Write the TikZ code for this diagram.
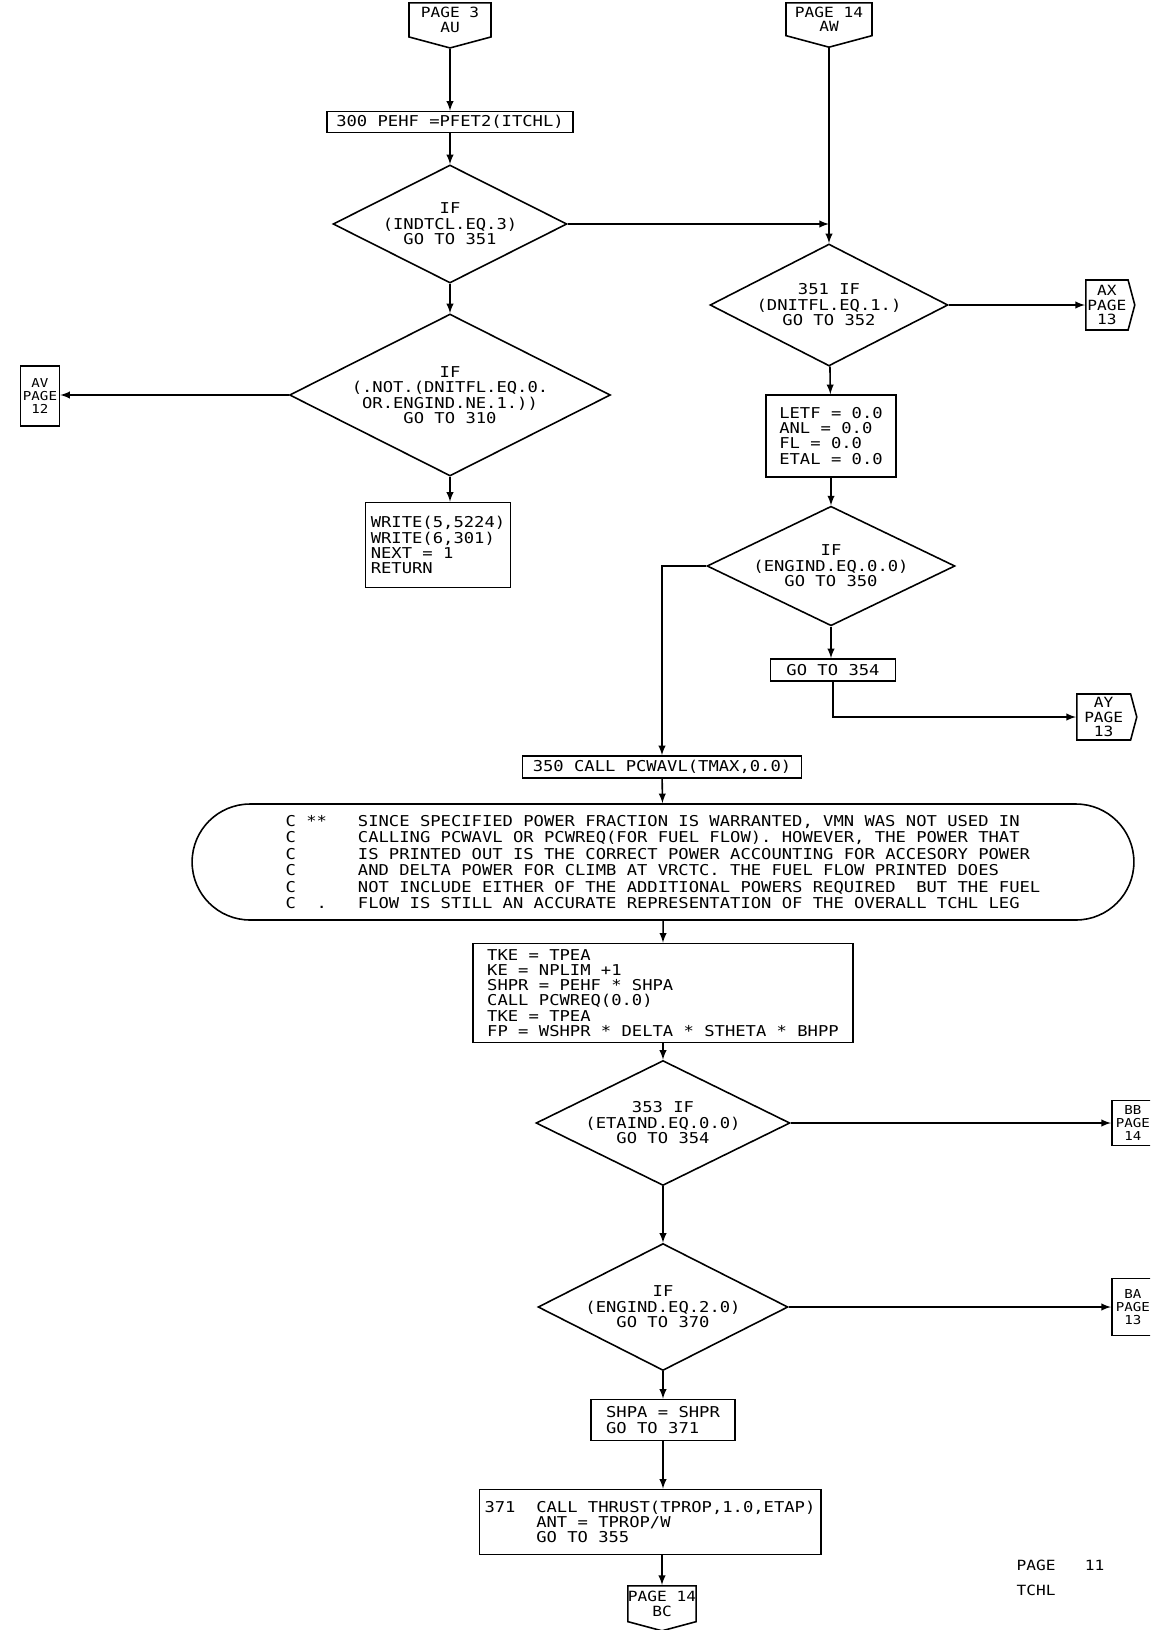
\documentclass[tikz,border=0pt]{standalone}
\usepackage{fontspec}
\newfontfamily\plotfont[FakeStretch=1.15]{DejaVu Sans Mono}
\usetikzlibrary{shapes.geometric,shapes.misc,shapes.symbols}
\tikzset{
  process/.style={draw, rectangle, font=\plotfont\fontsize{8.5}{8.6}\selectfont, align=left, inner xsep=3pt, inner ysep=0pt},
  decision/.style={draw, diamond, aspect=2, font=\plotfont\fontsize{8.5}{8.8}\selectfont, align=center, inner sep=0pt},
  terminal/.style={draw, rounded rectangle, font=\plotfont\fontsize{8.5}{9.4}\selectfont, align=left, inner sep=0pt},
  offpage/.style={draw, signal, signal pointer angle=150, font=\plotfont\fontsize{8}{8.2}\selectfont, align=center, inner sep=0pt},
  pageref/.style={draw, rectangle, font=\plotfont\fontsize{7}{7.6}\selectfont, align=center, inner sep=0pt},
  flow/.style={->, >=latex}
}

\begin{document}
\begin{tikzpicture}[x=0.02cm, y=-0.02cm, line width=0.9pt]
  \clip (0,0) rectangle (1150,1630);

  % left column
  \node[offpage, signal to=south, minimum width=1.64cm, minimum height=0.84cm, anchor=north] (au) at (450,2) {PAGE 3\\AU};
  \node[process, minimum width=4.92cm, minimum height=0.42cm] (p300) at (450,122) {300 PEHF =PFET2(ITCHL)};
  \node[decision, minimum width=4.68cm, minimum height=2.36cm] (d1) at (450,224) {IF\\(INDTCL.EQ.3)\\GO TO 351};
  \node[decision, minimum width=6.42cm, minimum height=3.24cm] (d2) at (450,395) {IF\\(.NOT.(DNITFL.EQ.0.\\OR.ENGIND.NE.1.))\\GO TO 310};
  \node[pageref, minimum width=0.78cm, minimum height=1.2cm] (av) at (40,396) {AV\\PAGE\\12};
  \node[process, minimum width=2.66cm, minimum height=1.7cm] (write) at (438,545) {WRITE(5,5224)\\WRITE(6,301)\\NEXT = 1\\RETURN};

  % right column
  \node[offpage, signal to=south, minimum width=1.72cm, minimum height=0.84cm, anchor=north] (aw) at (829,2) {PAGE 14\\AW};
  \coordinate (j1) at (829,224);
  \node[decision, minimum width=4.76cm, minimum height=2.44cm] (d351) at (829,305) {351 IF\\(DNITFL.EQ.1.)\\GO TO 352};
  \node[offpage, signal to=east, minimum width=0.98cm, minimum height=1.0cm, anchor=west] (ax) at (1085,305) {AX\\PAGE\\13};
  \node[process, minimum width=2.6cm, minimum height=1.64cm] (letf) at (831,436) {LETF = 0.0\\ANL = 0.0\\FL = 0.0\\ETAL = 0.0};
  \node[decision, minimum width=4.96cm, minimum height=2.32cm] (deng0) at (831,566) {IF\\(ENGIND.EQ.0.0)\\GO TO 350};
  \node[process, minimum width=2.5cm, minimum height=0.44cm] (go354) at (833,670) {GO TO 354};
  \node[offpage, signal to=east, minimum width=1.2cm, minimum height=0.92cm, anchor=west] (ay) at (1076,717) {AY\\PAGE\\13};

  % lower column
  \node[process, minimum width=5.58cm, minimum height=0.44cm] (p350) at (662,767) {350 CALL PCWAVL(TMAX,0.0)};
  \node[terminal, minimum width=18.84cm, minimum height=2.32cm] (note) at (663,862)
    {C~**~~~SINCE SPECIFIED POWER FRACTION IS WARRANTED, VMN WAS NOT USED IN\\
     C~~~~~~CALLING PCWAVL OR PCWREQ(FOR FUEL FLOW). HOWEVER, THE POWER THAT\\
     C~~~~~~IS PRINTED OUT IS THE CORRECT POWER ACCOUNTING FOR ACCESORY POWER\\
     C~~~~~~AND DELTA POWER FOR CLIMB AT VRCTC. THE FUEL FLOW PRINTED DOES\\
     C~~~~~~NOT INCLUDE EITHER OF THE ADDITIONAL POWERS REQUIRED~~BUT THE FUEL\\
     C~~.~~~FLOW IS STILL AN ACCURATE REPRESENTATION OF THE OVERALL TCHL LEG};
  \node[process, minimum width=7.6cm, minimum height=1.98cm] (tke) at (663,993)
    {TKE = TPEA\\KE = NPLIM +1\\SHPR = PEHF * SHPA\\CALL PCWREQ(0.0)\\TKE = TPEA\\FP = WSHPR * DELTA * STHETA * BHPP};
  \node[decision, minimum width=5.08cm, minimum height=2.5cm] (d353) at (663,1123) {353 IF\\(ETAIND.EQ.0.0)\\GO TO 354};
  \node[pageref, minimum width=0.84cm, minimum height=0.9cm, anchor=west] (bb) at (1111,1123) {BB\\PAGE\\14};
  \node[decision, minimum width=5.0cm, minimum height=2.54cm] (deng2) at (663,1307) {IF\\(ENGIND.EQ.2.0)\\GO TO 370};
  \node[pageref, minimum width=0.84cm, minimum height=1.14cm, anchor=west] (ba) at (1111,1307) {BA\\PAGE\\13};
  \node[process, minimum width=2.88cm, minimum height=0.82cm] (shpa) at (663,1420) {SHPA = SHPR\\GO TO 371};
  \node[process, minimum width=6.44cm, minimum height=1.3cm] (p371) at (650,1522)
    {371~~CALL THRUST(TPROP,1.0,ETAP)\\~~~~~ANT = TPROP/W\\~~~~~GO TO 355};
  \node[offpage, signal to=south, minimum width=1.2cm, minimum height=0.9cm, anchor=north] (bc) at (662,1585) {PAGE 14\\BC};

  \node[anchor=west, font=\plotfont\fontsize{8}{8.4}\selectfont] (pgno) at (1010,1565) {PAGE~~~11};
  \node[anchor=west, font=\plotfont\fontsize{8}{8.4}\selectfont] (pgname) at (1010,1590) {TCHL};

  % connectors
  \draw[flow] (au) -- (p300);
  \draw[flow] (p300) -- (d1);
  \draw[flow] (d1) -- (d2);
  \draw[flow] (d2.west) -- (d2.west -| av.east);
  \draw[flow] (d2.south) -- (d2.south |- write.north);
  \draw (aw) -- (j1);
  \draw[flow] (d1.east) -- (j1);
  \draw[flow] (j1) -- (d351);
  \draw[flow] (d351.east) -- (d351.east -| ax.west);
  \draw[flow] (d351) -- (letf);
  \draw[flow] (letf) -- (deng0);
  \draw[flow] (deng0.south) -- (deng0.south |- go354.north);
  \draw[flow] (go354.south) |- (ay.west);
  \draw[flow] (deng0.west) -| (p350.north);
  \draw[flow] (p350) -- (note);
  \draw[flow] (note) -- (tke);
  \draw[flow] (tke) -- (d353);
  \draw[flow] (d353.east) -- (d353.east -| bb.west);
  \draw[flow] (d353) -- (deng2);
  \draw[flow] (deng2.east) -- (deng2.east -| ba.west);
  \draw[flow] (deng2) -- (shpa);
  \draw[flow] (shpa.south) -- (shpa.south |- p371.north);
  \draw[flow] (bc.north |- p371.south) -- (bc.north);
\end{tikzpicture}
\end{document}
